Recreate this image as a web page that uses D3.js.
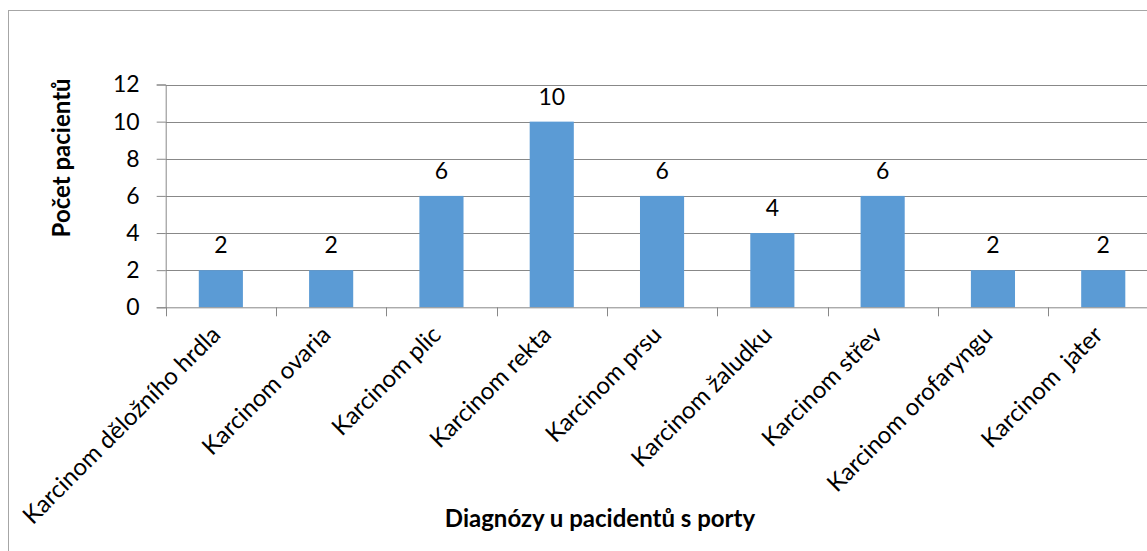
<!DOCTYPE html>
<html>
<head>
<meta charset="utf-8">
<script src="https://cdn.jsdelivr.net/npm/d3@7"></script>
<style>
  body { margin: 0; background: #fff; }
  svg text { font-family: Lato, "Open Sans", sans-serif; fill: #000; }
</style>
</head>
<body>
<div id="chart"></div>
<script>
var categories = ["Karcinom děložního hrdla", "Karcinom ovaria", "Karcinom plic",
                  "Karcinom rekta", "Karcinom prsu", "Karcinom žaludku",
                  "Karcinom střev", "Karcinom orofaryngu", "Karcinom  jater"];
var values = [2, 2, 6, 10, 6, 4, 6, 2, 2];
var yTicks = [0, 2, 4, 6, 8, 10, 12];
var xTitle = "Diagnózy u pacidentů s porty";
var yTitle = "Počet pacientů";

var w = 1147, h = 551;
var plotLeft = 165.7, plotRight = 1158.4, plotTop = 84.5, plotBottom = 307.3;

var svg = d3.select("#chart").append("svg")
    .attr("width", w)
    .attr("height", h);

// outer chart border
svg.append("rect")
    .attr("x", 8.5).attr("y", 10.5)
    .attr("width", 1160).attr("height", 560)
    .attr("fill", "none")
    .attr("stroke", "#a6a6a6");

var x = d3.scaleBand()
    .domain(categories)
    .range([plotLeft, plotRight])
    .paddingInner(0.6)
    .paddingOuter(0.3);

var y = d3.scaleLinear()
    .domain([0, 12])
    .range([plotBottom, plotTop]);

// gridlines
svg.selectAll("line.grid")
    .data(yTicks.slice(1))
    .enter().append("line")
    .attr("class", "grid")
    .attr("x1", plotLeft).attr("x2", plotRight)
    .attr("y1", function(d) { return Math.round(y(d)) + 0.5; })
    .attr("y2", function(d) { return Math.round(y(d)) + 0.5; })
    .attr("stroke", "#888")
    .attr("stroke-width", 1);

// bars
svg.selectAll("rect.bar")
    .data(values)
    .enter().append("rect")
    .attr("class", "bar")
    .attr("x", function(d, i) { return x(categories[i]); })
    .attr("y", function(d) { return y(d); })
    .attr("width", x.bandwidth())
    .attr("height", function(d) { return plotBottom - y(d); })
    .attr("fill", "#5b9bd5");

// data labels
svg.selectAll("text.val")
    .data(values)
    .enter().append("text")
    .attr("class", "val")
    .attr("x", function(d, i) { return x(categories[i]) + x.bandwidth() / 2; })
    .attr("y", function(d) { return y(d) - 17; })
    .attr("text-anchor", "middle")
    .attr("font-size", "23px")
    .text(function(d) { return d; });

// y axis
var yaxis = d3.axisLeft(y).tickValues(yTicks).tickSize(9).tickPadding(17);
var gy = svg.append("g")
    .attr("transform", "translate(" + plotLeft + ",0)")
    .call(yaxis);
gy.selectAll("text").attr("font-size", "23px").style("font-family", "Lato, sans-serif");
gy.selectAll("line, path").attr("stroke", "#888");

// x axis with ticks at category boundaries
var gx = svg.append("g")
    .attr("transform", "translate(0," + plotBottom + ")");
gx.append("line")
    .attr("x1", plotLeft).attr("x2", plotRight)
    .attr("y1", 0.5).attr("y2", 0.5)
    .attr("stroke", "#888");
gx.selectAll("line.tick")
    .data(d3.range(categories.length + 1))
    .enter().append("line")
    .attr("class", "tick")
    .attr("x1", function(d) { return Math.round(plotLeft + d * x.step()) + 0.5; })
    .attr("x2", function(d) { return Math.round(plotLeft + d * x.step()) + 0.5; })
    .attr("y1", 0).attr("y2", 9)
    .attr("stroke", "#888");

gx.selectAll("text.cat")
    .data(categories)
    .enter().append("text")
    .attr("class", "cat")
    .attr("text-anchor", "end")
    .attr("font-size", "24px")
    .attr("transform", function(d) {
        var cx = x(d) + x.bandwidth() / 2 + 1;
        return "translate(" + cx + ",29) rotate(-45)";
    })
    .style("white-space", "pre")
    .text(function(d) { return d; });

// axis titles
svg.append("text")
    .attr("x", 600)
    .attr("y", 527)
    .attr("text-anchor", "middle")
    .attr("font-size", "24px")
    .attr("font-weight", "bold")
    .text(xTitle);

svg.append("text")
    .attr("transform", "translate(70," + ((plotTop + plotBottom) / 2 - 38) + ") rotate(-90)")
    .attr("text-anchor", "middle")
    .attr("font-size", "24px")
    .attr("font-weight", "bold")
    .text(yTitle);
</script>
</body>
</html>
